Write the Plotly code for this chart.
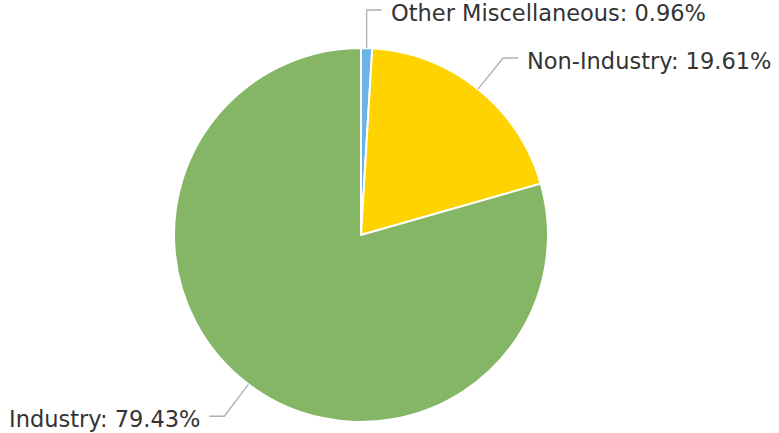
import math
import plotly.graph_objects as go

labels = ["Other Miscellaneous", "Non-Industry", "Industry"]
values = [0.96, 19.61, 79.43]
colors = ["#6CB4E4", "#FFD300", "#85B665"]

W, H = 779, 433
cx, cy, R = 361, 235, 187

fig = go.Figure(go.Pie(
    labels=labels, values=values, sort=False, direction="clockwise",
    rotation=0, textinfo="none", hoverinfo="label+percent",
    marker=dict(colors=colors, line=dict(color="white", width=2)),
    domain=dict(x=[(cx - R) / W, (cx + R) / W], y=[(H - cy - R) / H, (H - cy + R) / H]),
    showlegend=False,
))

total = sum(values)
cum = 0
shapes, annos = [], []
for lab, v in zip(labels, values):
    mid = (cum + v / 2) / total * 2 * math.pi
    cum += v
    s, c = math.sin(mid), math.cos(mid)
    x0, y0 = cx + R * s, cy - R * c
    if v / total < 0.02:
        x1, y1 = x0, 10
    else:
        x1, y1 = cx + 227 * s, cy - 227 * c
    side = 1 if s >= 0 else -1
    x2 = x1 + side * 15
    path = f"M {x0/W} {1-y0/H} L {x1/W} {1-y1/H} L {x2/W} {1-y1/H}"
    shapes.append(dict(type="path", xref="paper", yref="paper", path=path,
                       line=dict(color="#B0B0B0", width=1.3)))
    pct = v / total * 100
    annos.append(dict(x=(x2 + side * 7) / W, y=1 - (y1 + 3) / H, xref="paper", yref="paper",
                      text=f"{lab}: {pct:.2f}%", showarrow=False,
                      xanchor="left" if side > 0 else "right", yanchor="middle",
                      font=dict(family="DejaVu Sans", size=22.5, color="#333333")))

fig.update_layout(width=W, height=H, margin=dict(l=0, r=0, t=0, b=0),
                  paper_bgcolor="white", plot_bgcolor="white",
                  shapes=shapes, annotations=annos)
fig.write_html("out.html", config={"displayModeBar": False},
               post_script="document.body.style.margin='0px';")
